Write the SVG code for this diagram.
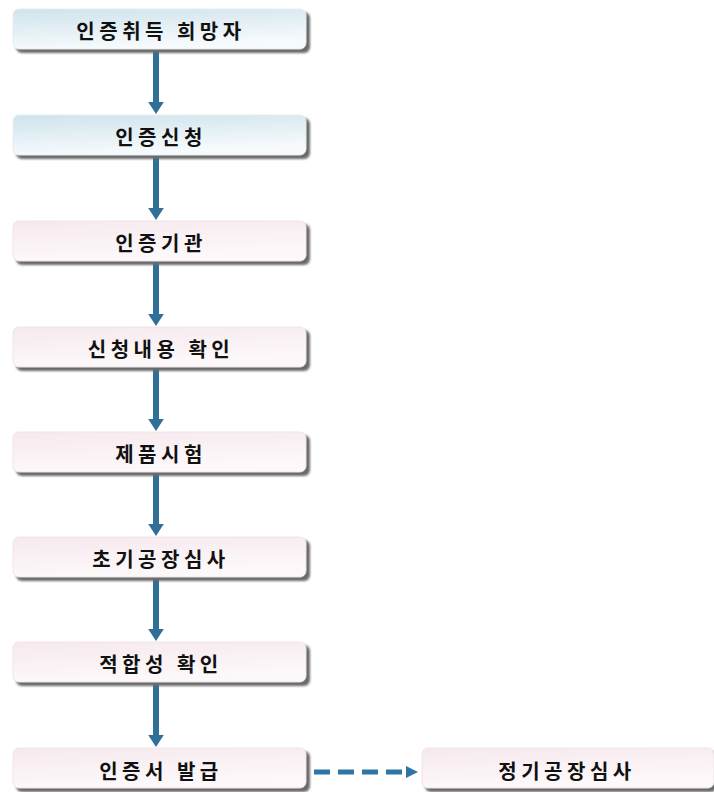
<svg xmlns="http://www.w3.org/2000/svg" width="714" height="792" viewBox="0 0 714 792">
<defs>
<linearGradient id="gBlue" x1="0" y1="0" x2="0.3" y2="1">
<stop offset="0" stop-color="#cfe3ec"/>
<stop offset="1" stop-color="#f7fbfd"/>
</linearGradient>
<linearGradient id="gPink" x1="0" y1="0" x2="0.3" y2="1">
<stop offset="0" stop-color="#f6e9ee"/>
<stop offset="1" stop-color="#fdf9fa"/>
</linearGradient>
<filter id="blur" x="-5%" y="-20%" width="110%" height="140%">
<feGaussianBlur stdDeviation="1"/>
</filter>
<marker id="ah" markerWidth="2" markerHeight="2.6" refX="0" refY="1.3" orient="auto" markerUnits="strokeWidth">
<path d="M0,0 L2,1.3 L0,2.6 z" fill="#2f6f98"/>
</marker>
<marker id="ah2" markerWidth="2.4" markerHeight="2.4" refX="0" refY="1.2" orient="auto" markerUnits="strokeWidth">
<path d="M0,0 L2.4,1.2 L0,2.4 z" fill="#2f75a3"/>
</marker>
</defs>
<style>
.sh{fill:#6a6a6a;filter:url(#blur);}
.bb{fill:url(#gBlue);stroke:#e4eef3;stroke-width:1;}
.bp{fill:url(#gPink);stroke:#efe4e8;stroke-width:1;}
.t{font-family:"Noto Sans CJK KR","Noto Sans CJK SC",sans-serif;font-weight:bold;font-size:20px;letter-spacing:4.5px;fill:#111;text-anchor:middle;dominant-baseline:central;}
.v{stroke:#2f6f98;stroke-width:6;fill:none;}
.d{stroke:#2f75a3;stroke-width:5;stroke-dasharray:16 8;fill:none;}
</style>
<g id="connectors">
<line class="v" x1="156" y1="50" x2="156" y2="102" marker-end="url(#ah)"/>
<line class="v" x1="156" y1="156" x2="156" y2="208" marker-end="url(#ah)"/>
<line class="v" x1="156" y1="262" x2="156" y2="314" marker-end="url(#ah)"/>
<line class="v" x1="156" y1="368" x2="156" y2="419" marker-end="url(#ah)"/>
<line class="v" x1="156" y1="473" x2="156" y2="524" marker-end="url(#ah)"/>
<line class="v" x1="156" y1="578" x2="156" y2="629" marker-end="url(#ah)"/>
<line class="v" x1="156" y1="683" x2="156" y2="735" marker-end="url(#ah)"/>
<line class="d" x1="314" y1="772" x2="406" y2="772" marker-end="url(#ah2)"/>
</g>
<g id="n1">
<rect class="sh" x="16" y="12" width="294" height="41" rx="6"/>
<rect class="bb" x="13" y="9" width="293" height="40" rx="6"/>
<text class="t" x="161" y="30">인증취득 희망자</text>
</g>
<g id="n2">
<rect class="sh" x="16" y="118" width="294" height="41" rx="6"/>
<rect class="bb" x="13" y="115" width="293" height="40" rx="6"/>
<text class="t" x="161" y="136">인증신청</text>
</g>
<g id="n3">
<rect class="sh" x="16" y="224" width="294" height="41" rx="6"/>
<rect class="bp" x="13" y="221" width="293" height="40" rx="6"/>
<text class="t" x="161" y="242">인증기관</text>
</g>
<g id="n4">
<rect class="sh" x="16" y="330" width="294" height="41" rx="6"/>
<rect class="bp" x="13" y="327" width="293" height="40" rx="6"/>
<text class="t" x="161" y="348">신청내용 확인</text>
</g>
<g id="n5">
<rect class="sh" x="16" y="435" width="294" height="41" rx="6"/>
<rect class="bp" x="13" y="432" width="293" height="40" rx="6"/>
<text class="t" x="161" y="453">제품시험</text>
</g>
<g id="n6">
<rect class="sh" x="16" y="540" width="294" height="41" rx="6"/>
<rect class="bp" x="13" y="537" width="293" height="40" rx="6"/>
<text class="t" x="161" y="558">초기공장심사</text>
</g>
<g id="n7">
<rect class="sh" x="16" y="645" width="294" height="41" rx="6"/>
<rect class="bp" x="13" y="642" width="293" height="40" rx="6"/>
<text class="t" x="161" y="663">적합성 확인</text>
</g>
<g id="n8">
<rect class="sh" x="16" y="751" width="294" height="41" rx="6"/>
<rect class="bp" x="13" y="748" width="293" height="40" rx="6"/>
<text class="t" x="161" y="770">인증서 발급</text>
</g>
<g id="n9">
<rect class="sh" x="425" y="751" width="292" height="41" rx="6"/>
<rect class="bp" x="422" y="748" width="292" height="40" rx="6"/>
<text class="t" x="567" y="770">정기공장심사</text>
</g>
</svg>
